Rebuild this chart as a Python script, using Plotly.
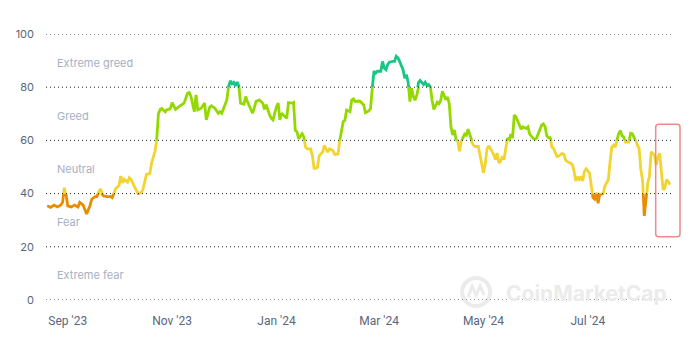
import plotly.graph_objects as go

# ---- data ----
dates = [
    "2023-08-20", "2023-08-22", "2023-08-24", "2023-08-26", "2023-08-28", "2023-08-29", "2023-08-30", "2023-08-31",
    "2023-09-01", "2023-09-03", "2023-09-05", "2023-09-07", "2023-09-08", "2023-09-10", "2023-09-12", "2023-09-14",
    "2023-09-15", "2023-09-17", "2023-09-18", "2023-09-20", "2023-09-21", "2023-09-22", "2023-09-24", "2023-09-26",
    "2023-09-27", "2023-09-29",
    "2023-10-01", "2023-10-02", "2023-10-03", "2023-10-04", "2023-10-06", "2023-10-07", "2023-10-08", "2023-10-10",
    "2023-10-12", "2023-10-14", "2023-10-15", "2023-10-17", "2023-10-19", "2023-10-20", "2023-10-21", "2023-10-22",
    "2023-10-23", "2023-10-24", "2023-10-25", "2023-10-26", "2023-10-28", "2023-10-29", "2023-10-30", "2023-10-31",
    "2023-11-01", "2023-11-03", "2023-11-05", "2023-11-07", "2023-11-08", "2023-11-10", "2023-11-11", "2023-11-12",
    "2023-11-14", "2023-11-15", "2023-11-16", "2023-11-18", "2023-11-20", "2023-11-21", "2023-11-23", "2023-11-24",
    "2023-11-26", "2023-11-28", "2023-11-29", "2023-11-30",
    "2023-12-02", "2023-12-03", "2023-12-04", "2023-12-05", "2023-12-06", "2023-12-07", "2023-12-08", "2023-12-09",
    "2023-12-10", "2023-12-11", "2023-12-13", "2023-12-14", "2023-12-15", "2023-12-17", "2023-12-18", "2023-12-19",
    "2023-12-20", "2023-12-22", "2023-12-24", "2023-12-25", "2023-12-26", "2023-12-28", "2023-12-29", "2023-12-30",
    "2024-01-01", "2024-01-02", "2024-01-03", "2024-01-04", "2024-01-06", "2024-01-07", "2024-01-08", "2024-01-10",
    "2024-01-11", "2024-01-12", "2024-01-13", "2024-01-14", "2024-01-16", "2024-01-17", "2024-01-18", "2024-01-19",
    "2024-01-21", "2024-01-22", "2024-01-23", "2024-01-24", "2024-01-25", "2024-01-26", "2024-01-27", "2024-01-28",
    "2024-01-29", "2024-01-31",
    "2024-02-01", "2024-02-03", "2024-02-04", "2024-02-06", "2024-02-07", "2024-02-08", "2024-02-09", "2024-02-10",
    "2024-02-11", "2024-02-13", "2024-02-14", "2024-02-15", "2024-02-16", "2024-02-18", "2024-02-19", "2024-02-21",
    "2024-02-22", "2024-02-24", "2024-02-25", "2024-02-26", "2024-02-27", "2024-02-28", "2024-02-29",
    "2024-03-02", "2024-03-03", "2024-03-04", "2024-03-05", "2024-03-06", "2024-03-07", "2024-03-09", "2024-03-10",
    "2024-03-11", "2024-03-12", "2024-03-13", "2024-03-15", "2024-03-16", "2024-03-17", "2024-03-18", "2024-03-19",
    "2024-03-20", "2024-03-21", "2024-03-22", "2024-03-23", "2024-03-24", "2024-03-25", "2024-03-26", "2024-03-27",
    "2024-03-28", "2024-03-29", "2024-03-30", "2024-03-31",
    "2024-04-01", "2024-04-02", "2024-04-04", "2024-04-05", "2024-04-06", "2024-04-07", "2024-04-09", "2024-04-10",
    "2024-04-11", "2024-04-12", "2024-04-13", "2024-04-14", "2024-04-15", "2024-04-16", "2024-04-17", "2024-04-18",
    "2024-04-20", "2024-04-21", "2024-04-22", "2024-04-23", "2024-04-24", "2024-04-25", "2024-04-26", "2024-04-28",
    "2024-04-29",
    "2024-05-01", "2024-05-02", "2024-05-03", "2024-05-04", "2024-05-05", "2024-05-07", "2024-05-08", "2024-05-09",
    "2024-05-10", "2024-05-11", "2024-05-12", "2024-05-13", "2024-05-14", "2024-05-15", "2024-05-16", "2024-05-17",
    "2024-05-18", "2024-05-19", "2024-05-20", "2024-05-22", "2024-05-23", "2024-05-24", "2024-05-26", "2024-05-27",
    "2024-05-28", "2024-05-30", "2024-05-31",
    "2024-06-01", "2024-06-02", "2024-06-03", "2024-06-04", "2024-06-05", "2024-06-06", "2024-06-07", "2024-06-08",
    "2024-06-09", "2024-06-10", "2024-06-11", "2024-06-13", "2024-06-14", "2024-06-16", "2024-06-17", "2024-06-18",
    "2024-06-19", "2024-06-21", "2024-06-22", "2024-06-23", "2024-06-24", "2024-06-25", "2024-06-26", "2024-06-27",
    "2024-06-28", "2024-06-29", "2024-06-30",
    "2024-07-02", "2024-07-03", "2024-07-04", "2024-07-05", "2024-07-06", "2024-07-07", "2024-07-08", "2024-07-09",
    "2024-07-10", "2024-07-11", "2024-07-13", "2024-07-14", "2024-07-15", "2024-07-16", "2024-07-17", "2024-07-18",
    "2024-07-19", "2024-07-20", "2024-07-21", "2024-07-22", "2024-07-23", "2024-07-25", "2024-07-26", "2024-07-27",
    "2024-07-28", "2024-07-29", "2024-07-30", "2024-07-31",
    "2024-08-01", "2024-08-02", "2024-08-03", "2024-08-04", "2024-08-05", "2024-08-06", "2024-08-07", "2024-08-08",
    "2024-08-09", "2024-08-10", "2024-08-11", "2024-08-12", "2024-08-13", "2024-08-14", "2024-08-15", "2024-08-16",
    "2024-08-17", "2024-08-18",
]

index_values = [
    35.4, 34.8, 35.7, 35.0, 35.7, 36.7, 42.2, 39.8,
    35.4, 35.0, 35.7, 35.0, 36.7, 35.7, 32.3, 35.4,
    37.9, 38.9, 38.9, 41.8, 39.8, 39.1, 38.9, 38.9,
    38.5, 41.8,
    43.1, 46.6, 44.0, 45.4, 44.3, 46.0, 45.4, 42.6,
    40.1, 40.4, 41.6, 47.2, 47.5, 51.5, 54.3, 55.9,
    60.2, 70.0, 71.6, 72.0, 70.7, 71.6, 71.7, 72.0,
    74.2, 71.7, 72.7, 73.4, 74.0, 77.7, 78.0, 76.5,
    70.8, 77.1, 71.5, 72.1, 74.0, 67.7, 72.5, 73.0,
    72.1, 70.2, 70.8, 70.2,
    73.7, 75.2, 80.2, 82.4, 81.3, 81.8, 80.5, 81.9,
    80.5, 74.0, 73.6, 76.5, 74.6, 71.5, 70.2, 72.1,
    74.6, 75.2, 74.0, 71.7, 73.4, 69.6, 68.3, 67.7,
    72.7, 74.0, 67.7, 70.2, 69.0, 68.3, 74.2, 74.0,
    74.3, 63.8, 63.2, 60.6, 62.5, 61.3, 57.5, 56.8,
    56.8, 54.3, 49.5, 49.5, 49.9, 54.3, 54.9, 55.6,
    58.1, 55.6,
    56.8, 56.2, 54.7, 54.9, 60.0, 64.4, 67.0, 67.6,
    71.4, 70.8, 75.2, 75.6, 74.6, 74.8, 74.6, 73.3,
    70.4, 71.1, 72.0, 79.6, 86.0, 85.3, 86.0,
    86.0, 89.7, 87.2, 86.6, 88.5, 89.4, 89.7, 89.7,
    91.6, 91.0, 89.7, 86.6, 83.4, 84.7, 81.8, 74.6,
    79.6, 76.5, 75.1, 77.0, 81.7, 82.5, 81.9, 81.0,
    81.9, 80.6, 81.0, 80.0,
    75.0, 71.6, 74.4, 73.8, 75.0, 78.5, 75.3, 76.3,
    73.8, 65.1, 62.0, 63.9, 60.2, 59.6, 55.9, 59.6,
    62.4, 62.0, 64.2, 62.0, 59.6, 58.3, 57.7, 57.7,
    54.6,
    47.8, 50.9, 56.5, 58.0, 57.1, 54.6, 52.8, 55.2,
    51.5, 52.1, 54.0, 52.8, 57.7, 60.8, 60.2, 62.4,
    60.8, 69.5, 68.9, 65.8, 64.2, 65.1, 64.5, 65.1,
    62.4, 60.8, 60.4,
    60.8, 62.7, 64.3, 65.8, 66.2, 65.2, 61.8, 61.0,
    61.0, 57.5, 56.9, 53.9, 54.1, 55.1, 54.8, 52.6,
    52.0, 51.4, 50.8, 48.3, 44.7, 46.3, 45.3, 46.5,
    44.7, 48.3, 49.3,
    47.7, 42.8, 38.5, 37.9, 40.4, 36.4, 39.8, 39.8,
    40.1, 42.8, 45.3, 52.0, 57.5, 58.2, 57.5, 60.0,
    62.5, 63.7, 61.8, 61.2, 59.4, 59.4, 62.7, 62.5,
    61.2, 60.0, 58.2, 56.9,
    49.0, 45.0, 31.6, 36.0, 44.0, 46.5, 55.7, 55.0,
    54.4, 50.7, 53.8, 55.1, 48.3, 41.5, 42.1, 45.2,
    44.6, 43.4,
]

band_names = ["Extreme fear", "Fear", "Neutral", "Greed", "Extreme greed"]
band_low = [0, 20, 40, 60, 80]
band_high = [20, 40, 60, 80, 100]
band_colors = ["#EA3943", "#EA8C00", "#F3D42F", "#93D900", "#16C784"]

y_ticks = [0, 20, 40, 60, 80, 100]
x_tick_dates = ["2023-09-01", "2023-11-01", "2024-01-01", "2024-03-01", "2024-05-01", "2024-07-01"]
x_tick_labels = ["Sep '23", "Nov '23", "Jan '24", "Mar '24", "May '24", "Jul '24"]
x_range = ["2023-08-19 07:00", "2024-08-19 19:00"]

TICK_GRAY = "#58667E"
LABEL_GRAY = "#A6B0C3"
WATERMARK = "#EBEBEB"
GRID = "#222222"

fig = go.Figure()

# invisible carrier on the main axis (keeps the main subplot with its ticks)
fig.add_trace(go.Scatter(x=dates, y=index_values, mode="lines",
                         line=dict(color="rgba(0,0,0,0)", width=1),
                         hoverinfo="skip", showlegend=False, xaxis="x", yaxis="y"))

# one copy of the line per sentiment band; each band axis clips it to its value range
layout_axes = {}
for i, (lo, hi, col) in enumerate(zip(band_low, band_high, band_colors)):
    ax_id = i + 2
    fig.add_trace(go.Scatter(
        x=dates, y=index_values, mode="lines",
        line=dict(color=col, width=2.8, shape="linear"),
        showlegend=False, xaxis="x", yaxis=f"y{ax_id}",
        hovertemplate="%{x|%b %d, %Y}: %{y:.0f}<extra></extra>",
    ))
    layout_axes[f"yaxis{ax_id}"] = dict(
        domain=[lo / 100, hi / 100], range=[lo, hi], anchor="x",
        visible=False, showgrid=False, zeroline=False, fixedrange=True,
    )

# dotted horizontal grid at each y tick (drawn on top so no subplot hides it)
for v in y_ticks:
    fig.add_shape(type="line", xref="paper", x0=0, x1=1, yref="y", y0=v, y1=v,
                  line=dict(color=GRID, width=1, dash="1px,3px"), layer="above")

# band labels
for name, lo, hi in zip(band_names, band_low, band_high):
    fig.add_annotation(
        x=0.014, xref="paper", xanchor="left",
        y=(lo + hi) / 2, yref="y", yanchor="middle", yshift=-2,
        text=name, showarrow=False,
        font=dict(family="Inter, Roboto, sans-serif", size=11, color=LABEL_GRAY),
    )

# watermark
fig.add_annotation(
    x=0.862, xref="paper", y=0.026, yref="paper", xanchor="center", yanchor="middle",
    text="<b>CoinMarketCap</b>", showarrow=False,
    font=dict(family="Inter, sans-serif", size=21, color=WATERMARK),
)
fig.add_shape(
    type="circle", xref="paper", yref="paper",
    xsizemode="pixel", ysizemode="pixel", xanchor=0.686, yanchor=0.030,
    x0=-14, x1=14, y0=-14, y1=14,
    line=dict(color=WATERMARK, width=4), layer="below",
)
fig.add_shape(
    type="path", xref="paper", yref="paper",
    xsizemode="pixel", ysizemode="pixel", xanchor=0.686, yanchor=0.030,
    path="M -8,-5 L -4,6 L 0,-3 L 4,6 L 8,-3",
    line=dict(color=WATERMARK, width=3), layer="below",
)

# red highlight box (rounded corners)
bx0, bx1, by0, by1 = 0.9724, 1.0112, 0.238, 0.6605
rx, ry = 0.0048, 0.0113
box_path = (
    f"M {bx0+rx},{by1} L {bx1-rx},{by1} Q {bx1},{by1} {bx1},{by1-ry} "
    f"L {bx1},{by0+ry} Q {bx1},{by0} {bx1-rx},{by0} "
    f"L {bx0+rx},{by0} Q {bx0},{by0} {bx0},{by0+ry} "
    f"L {bx0},{by1-ry} Q {bx0},{by1} {bx0+rx},{by1} Z"
)
fig.add_shape(type="path", xref="paper", yref="paper", path=box_path,
              line=dict(color="#F08A8A", width=1.5), fillcolor="rgba(0,0,0,0)")

fig.update_layout(
    width=695, height=358,
    margin=dict(l=46, r=22, t=34, b=58),
    paper_bgcolor="white", plot_bgcolor="rgba(0,0,0,0)",
    showlegend=False,
    xaxis=dict(
        type="date", range=x_range, anchor="y",
        tickmode="array", tickvals=x_tick_dates, ticktext=x_tick_labels,
        showgrid=False, zeroline=False, showline=False, ticks="",
        ticklabelstandoff=12,
        tickfont=dict(family="Roboto, sans-serif", size=12, color=TICK_GRAY),
        fixedrange=True,
    ),
    yaxis=dict(
        range=[0, 100], domain=[0, 1], anchor="x",
        tickmode="array", tickvals=y_ticks,
        showgrid=False, zeroline=False, showline=False, ticks="",
        ticklabelstandoff=11,
        tickfont=dict(family="Inter, sans-serif", size=11, color=TICK_GRAY),
        fixedrange=True,
    ),
    **layout_axes,
)

fig.write_html("out.html")
